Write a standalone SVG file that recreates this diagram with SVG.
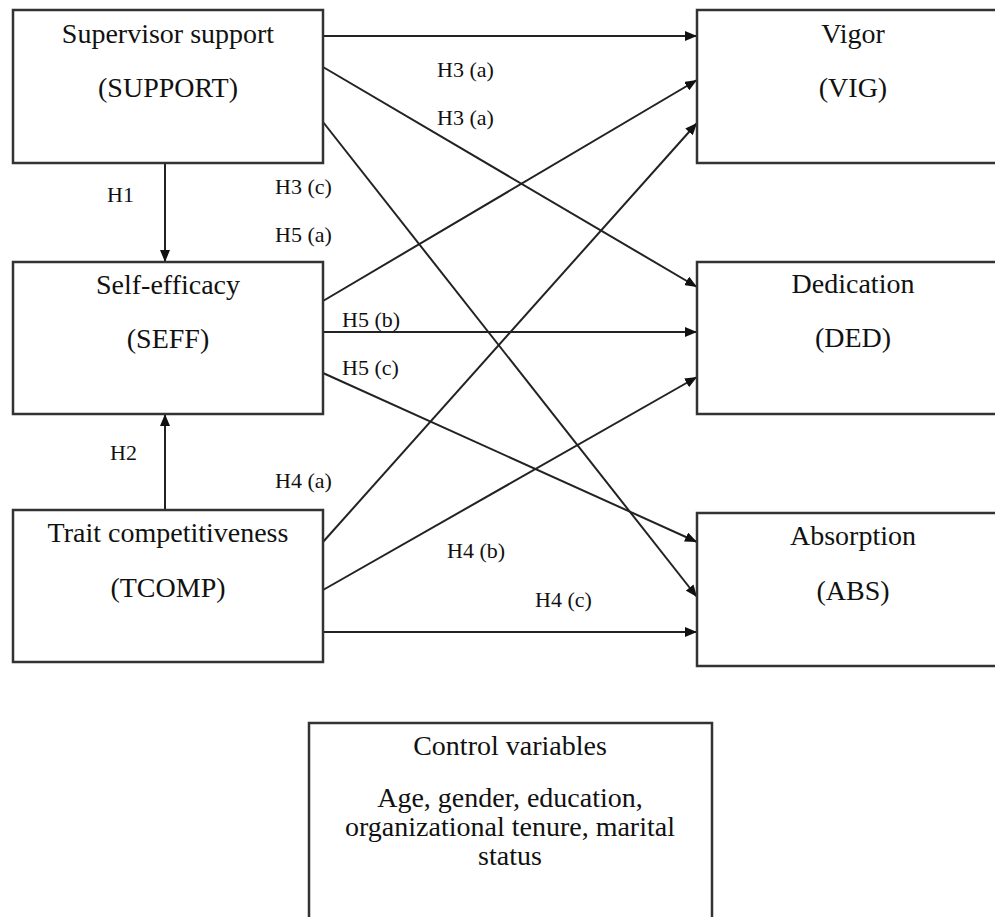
<svg xmlns="http://www.w3.org/2000/svg" width="995" height="917" viewBox="0 0 995 917">
<defs>
<style>
.box{fill:#fff;stroke:#333;stroke-width:2.5}
.t{font-family:"Liberation Serif","Times New Roman",serif;font-size:28px;fill:#111;text-anchor:middle}
.lb{font-family:"Liberation Serif","Times New Roman",serif;font-size:22px;fill:#111}
.c{stroke:#222;stroke-width:2;fill:none;marker-end:url(#ah)}
</style>
<marker id="ah" viewBox="0 0 12 10" refX="12" refY="5" markerWidth="12" markerHeight="10" markerUnits="userSpaceOnUse" orient="auto">
<path d="M0,0 L12,5 L0,10 Z" fill="#111"/>
</marker>
</defs>
<rect width="995" height="917" fill="#fff"/>
<g id="connectors">
<line class="c" x1="323" y1="36" x2="697" y2="36"/>
<line class="c" x1="323" y1="67" x2="697" y2="287"/>
<line class="c" x1="323" y1="122" x2="697" y2="597"/>
<line class="c" x1="323" y1="301" x2="697" y2="80"/>
<line class="c" x1="323" y1="332" x2="697" y2="332"/>
<line class="c" x1="323" y1="373" x2="697" y2="542"/>
<line class="c" x1="323" y1="542" x2="697" y2="123"/>
<line class="c" x1="323" y1="590" x2="697" y2="377"/>
<line class="c" x1="323" y1="632" x2="697" y2="632"/>
<line class="c" x1="165" y1="163" x2="165" y2="262"/>
<line class="c" x1="165" y1="510" x2="165" y2="414"/>
</g>
<g id="labels">
<text class="lb" x="437" y="77">H3 (a)</text>
<text class="lb" x="437" y="125">H3 (a)</text>
<text class="lb" x="275" y="194">H3 (c)</text>
<text class="lb" x="275" y="242">H5 (a)</text>
<text class="lb" x="342" y="327">H5 (b)</text>
<text class="lb" x="342" y="375">H5 (c)</text>
<text class="lb" x="107" y="202">H1</text>
<text class="lb" x="110" y="460">H2</text>
<text class="lb" x="275" y="488">H4 (a)</text>
<text class="lb" x="447" y="558">H4 (b)</text>
<text class="lb" x="535" y="607">H4 (c)</text>
</g>
<g id="support">
<rect class="box" x="13" y="10" width="310" height="153"/>
<text class="t" x="168" y="43">Supervisor support</text>
<text class="t" x="168" y="97">(SUPPORT)</text>
</g>
<g id="seff">
<rect class="box" x="13" y="262" width="310" height="152"/>
<text class="t" x="168" y="294">Self-efficacy</text>
<text class="t" x="168" y="348">(SEFF)</text>
</g>
<g id="tcomp">
<rect class="box" x="13" y="510" width="310" height="152"/>
<text class="t" x="168" y="542">Trait competitiveness</text>
<text class="t" x="168" y="597">(TCOMP)</text>
</g>
<g id="vig">
<rect class="box" x="697" y="10" width="312" height="153"/>
<text class="t" x="853" y="43">Vigor</text>
<text class="t" x="853" y="97">(VIG)</text>
</g>
<g id="ded">
<rect class="box" x="697" y="262" width="312" height="152"/>
<text class="t" x="853" y="293">Dedication</text>
<text class="t" x="853" y="347">(DED)</text>
</g>
<g id="abs">
<rect class="box" x="697" y="513" width="312" height="153"/>
<text class="t" x="853" y="545">Absorption</text>
<text class="t" x="853" y="600">(ABS)</text>
</g>
<g id="control">
<rect class="box" x="309" y="723" width="403" height="210"/>
<text class="t" x="510" y="755">Control variables</text>
<text class="t" x="510" y="807">Age, gender, education,</text>
<text class="t" x="510" y="836">organizational tenure, marital</text>
<text class="t" x="510" y="865">status</text>
</g>
</svg>
